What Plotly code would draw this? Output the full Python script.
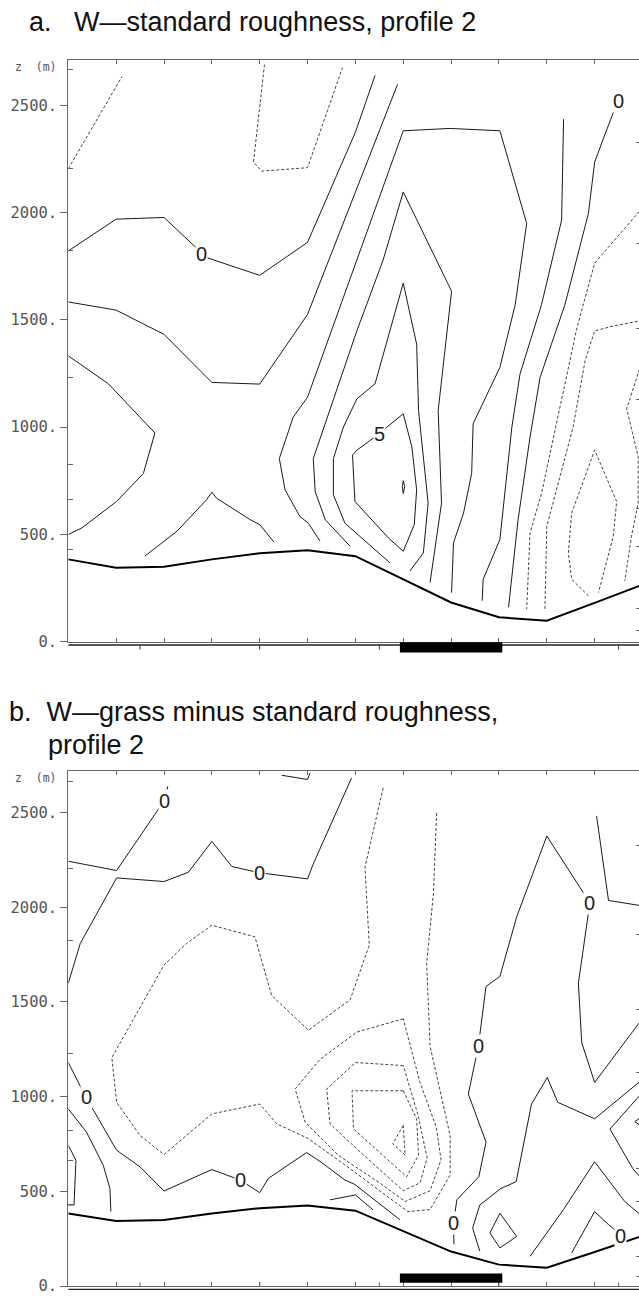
import plotly.graph_objects as go

# ---------------- data (x = model grid column, z = height in m) ----------------
col_x = list(range(13))
terrain_z = [383, 344, 349, 383, 411, 425, 398, 290, 182, 113, 97, 180, 265]

z_ticks = [0, 500, 1000, 1500, 2000, 2500]
z_tick_text = ["0.", "500.", "1000.", "1500.", "2000.", "2500."]
left_levels = [429, 664, 823, 1230, 1822, 2203, 2665]
right_levels = [50, 155, 445, 620, 1130, 1460, 1855, 2325]
scale_ticks = [1.5, 4, 6.5, 9, 11.5]
site_x = [6.93, 9.07]

# ---- panel a: W, standard roughness ----
a_neg1_x = [0.0, 1.12]
a_neg1_z = [2204, 2633]
a_neg2_x = [4.10, 3.87, 4.04, 5.0, 5.73]
a_neg2_z = [2690, 2235, 2193, 2209, 2675]
a_neg3_x = [12.0, 11.0, 10.63, 10.38, 10.14, 9.89, 9.65, 9.58]
a_neg3_z = [2022, 1764, 1463, 1201, 954, 691, 506, 151]
a_neg4_x = [12.0, 11.39, 11.0, 10.80, 10.55, 10.14, 10.0, 9.96]
a_neg4_z = [1497, 1471, 1448, 1309, 1000, 645, 537, 144]
a_neg5_x = [10.87, 10.52, 10.45, 10.52, 11.0, 11.46, 11.39, 11.08]
a_neg5_z = [213, 290, 413, 599, 892, 653, 491, 228]
a_neg6_x = [12.0, 11.67, 11.91, 11.91, 11.77, 11.63]
a_neg6_z = [1315, 1085, 861, 645, 491, 282]

a_zero1_x = [0, 1.0, 2.0, 2.89, 4.0, 5.0, 6.0, 6.41]
a_zero1_z = [1821, 1969, 1977, 1790, 1707, 1861, 2374, 2639]
a_zero2_x = [11.49, 11.40, 11.18, 11.0, 10.87, 10.38, 9.86, 9.65, 9.40, 9.20]
a_zero2_z = [2520, 2472, 2343, 2235, 1996, 1571, 1232, 954, 568, 159]

a_pos1_x = [0, 1.0, 2.0, 3.0, 4.0, 5.0, 6.88]
a_pos1_z = [1583, 1545, 1432, 1208, 1200, 1525, 2597]
a_pos2_x = [0, 0.84, 1.81, 1.57, 1.01, 0.28, 0]
a_pos2_z = [1332, 1201, 972, 784, 653, 529, 499]
a_pos3_x = [1.60, 2.27, 2.89, 3.0, 3.10, 3.80, 4.0, 4.30]
a_pos3_z = [398, 514, 661, 696, 668, 568, 545, 463]
a_pos4_x = [5.26, 5.02, 4.84, 4.53, 4.41, 4.70, 5.0, 6.93, 7.0, 7.98, 9.02, 9.58,
            9.34, 9.02, 8.46, 8.43, 8.26, 8.05, 8.01]
a_pos4_z = [468, 551, 583, 707, 853, 1046, 1139, 2343, 2381, 2392, 2381, 1949,
            1571, 1278, 1015, 784, 599, 460, 228]
a_pos5_x = [5.89, 5.37, 5.16, 5.12, 5.51, 6.03, 6.58, 7.0, 8.01, 7.73, 7.80, 7.56]
a_pos5_z = [444, 568, 699, 853, 1108, 1448, 1779, 2096, 1633, 1077, 645, 275]
a_pos6_x = [6.72, 5.78, 5.54, 5.54, 5.75, 6.03, 6.41, 7.0, 7.28, 7.32, 7.52, 7.42, 7.14]
a_pos6_z = [367, 552, 684, 853, 1000, 1131, 1201, 1671, 1386, 1077, 645, 413, 329]
a_pos7_x = [7.0, 7.18, 7.28, 7.23, 7.0, 6.69, 5.99, 5.94, 6.03, 6.41, 7.0]
a_pos7_z = [1062, 907, 707, 545, 421, 483, 653, 869, 892, 954, 1062]
a_pos8_x = [7.0, 7.03, 7.0, 6.98, 7.0]
a_pos8_z = [750, 722, 690, 722, 750]
a_pos9_x = [10.35, 10.31, 9.89, 9.44, 9.27, 9.02, 8.67, 8.65]
a_pos9_z = [2435, 1965, 1571, 1247, 1000, 476, 290, 190]

a_label_text = ["0", "0", "5"]
a_label_x = [2.79, 11.49, 6.51]
a_label_z = [1806, 2520, 968]

# ---- panel b: W, grass minus standard roughness ----
b_neg1_x = [6.58, 6.20, 6.29, 5.89, 5.02, 4.25, 3.90, 3.0, 2.47, 2.0, 0.91, 1.01, 1.50,
            2.0, 3.0, 4.0, 4.36, 5.02, 5.26, 5.78, 6.62, 7.10, 7.56, 7.98, 7.98, 7.56,
            7.49, 7.63, 7.70]
b_neg1_z = [2631, 2211, 1800, 1512, 1351, 1534, 1844, 1905, 1809, 1695, 1206, 970, 795,
            694, 909, 961, 856, 778, 734, 640, 482, 393, 404, 586, 795, 1267,
            1704, 2071, 2508]
b_neg2_x = [7.0, 6.03, 5.26, 4.74, 4.95, 5.64, 6.52, 7.04, 7.56, 7.79, 7.69, 7.35, 7.0]
b_neg2_z = [1411, 1341, 1197, 1040, 865, 691, 542, 446, 503, 666, 839, 1075, 1411]
b_neg3_x = [7.0, 6.0, 5.40, 5.47, 6.10, 7.0, 7.35, 7.50, 7.31, 7.0]
b_neg3_z = [1164, 1180, 1040, 856, 708, 503, 545, 676, 902, 1164]
b_neg4_x = [7.0, 5.93, 5.96, 7.07, 7.32, 7.28, 7.0]
b_neg4_z = [1031, 1031, 830, 577, 691, 883, 1031]
b_neg5_x = [7.0, 6.78, 7.04, 7.0]
b_neg5_z = [848, 751, 691, 848]

b_zero1_x = [0, 0.25, 1.01, 2.0, 2.51, 3.0, 3.42, 4.0, 5.0, 5.12, 5.92]
b_zero1_z = [1599, 1809, 2155, 2136, 2185, 2348, 2215, 2182, 2150, 2229, 2683]
b_zero2_x = [0, 1.01, 2.0, 2.08]
b_zero2_z = [2243, 2194, 2561, 2639]
b_zero3_x = [0, 0.37, 1.01, 1.50, 2.0, 3.0, 3.59, 4.0, 4.18, 4.98, 5.26, 5.78, 5.99, 6.93]
b_zero3_z = [1180, 996, 717, 629, 502, 615, 560, 493, 568, 705, 658, 560, 536, 350]
b_zero4_x = [8.06, 8.05, 8.12, 8.58, 8.73, 8.36, 8.57, 8.73, 9.02, 9.37, 10.0, 10.90,
             10.66, 10.73, 11.0, 12.0]
b_zero4_z = [220, 332, 455, 577, 760, 1014, 1267, 1582, 1635, 1949, 2376, 2024,
             1599, 1285, 1075, 1413]
b_zero5_x = [10.52, 11.0, 11.29, 11.46, 11.53]
b_zero5_z = [175, 393, 324, 288, 262]

b_pos1_x = [4.46, 5.0, 5.05]
b_pos1_z = [2697, 2675, 2709]
b_pos2_x = [0, 0.38, 0.73, 0.87, 0.89]
b_pos2_z = [935, 813, 638, 515, 393]
b_pos3_x = [0, 0.16, 0.12, 0]
b_pos3_z = [743, 664, 428, 428]
b_pos4_x = [5.47, 6.0, 6.37]
b_pos4_z = [455, 481, 402]
b_pos5_x = [11.04, 11.29, 12.0]
b_pos5_z = [2482, 2036, 2007]
b_pos6_x = [12.0, 11.0, 10.23, 10.01, 9.68, 9.36, 9.04, 8.60, 8.45, 8.60]
b_pos6_z = [1091, 883, 970, 1101, 961, 551, 515, 428, 306, 184]
b_pos7_x = [9.02, 9.37, 9.02, 8.81, 9.02]
b_pos7_z = [384, 262, 201, 280, 384]
b_pos8_x = [9.65, 10.35, 11.0, 11.63, 12.0]
b_pos8_z = [157, 404, 656, 446, 367]
b_pos9_x = [12.0, 11.32, 11.80, 12.0]
b_pos9_z = [1023, 829, 619, 561]
b_pos10_x = [12.0, 11.84, 12.0]
b_pos10_z = [897, 868, 839]

b_label_text = ["0", "0", "0", "0", "0", "0", "0", "0"]
b_label_x = [2.0, 4.0, 0.37, 3.59, 8.05, 8.57, 10.90, 11.53]
b_label_z = [2561, 2182, 996, 560, 332, 1267, 2024, 262]

# ---------------- layout constants (pixels of the 639 x 1299 page) ----------------
W, H = 639, 1299
LEFT = 68.3
COL = 47.85
X_RANGE = [0, (W - LEFT) / COL]
A_TOP, A_BOT = 60.0, 646.0
B_TOP, B_BOT = 776.7, 1295.0
A_ZMAX = (A_BOT - A_TOP) / 0.216
B_ZMAX = (B_BOT - B_TOP) / 0.1907


def py(p):
    return 1 - p / H


AX = "#666666"
SOLID = "#1a1a1a"
DASHC = "#444444"
TICKFONT = dict(family="DejaVu Sans Mono", size=15.5, color="#555555")
LABELFONT = dict(family="Liberation Sans", size=20, color="#222222")

fig = go.Figure()

panels = {
    "a": dict(xa="x", ya="y",
              solid=[(a_zero1_x, a_zero1_z), (a_zero2_x, a_zero2_z), (a_pos1_x, a_pos1_z),
                     (a_pos2_x, a_pos2_z), (a_pos3_x, a_pos3_z), (a_pos4_x, a_pos4_z),
                     (a_pos5_x, a_pos5_z), (a_pos6_x, a_pos6_z), (a_pos7_x, a_pos7_z),
                     (a_pos8_x, a_pos8_z), (a_pos9_x, a_pos9_z)],
              dashed=[(a_neg1_x, a_neg1_z), (a_neg2_x, a_neg2_z), (a_neg3_x, a_neg3_z),
                      (a_neg4_x, a_neg4_z), (a_neg5_x, a_neg5_z), (a_neg6_x, a_neg6_z)],
              labels=(a_label_text, a_label_x, a_label_z)),
    "b": dict(xa="x2", ya="y2",
              solid=[(b_zero1_x, b_zero1_z), (b_zero2_x, b_zero2_z), (b_zero3_x, b_zero3_z),
                     (b_zero4_x, b_zero4_z), (b_zero5_x, b_zero5_z), (b_pos1_x, b_pos1_z),
                     (b_pos2_x, b_pos2_z), (b_pos3_x, b_pos3_z), (b_pos4_x, b_pos4_z),
                     (b_pos5_x, b_pos5_z), (b_pos6_x, b_pos6_z), (b_pos7_x, b_pos7_z),
                     (b_pos8_x, b_pos8_z), (b_pos9_x, b_pos9_z), (b_pos10_x, b_pos10_z)],
              dashed=[(b_neg1_x, b_neg1_z), (b_neg2_x, b_neg2_z), (b_neg3_x, b_neg3_z),
                      (b_neg4_x, b_neg4_z), (b_neg5_x, b_neg5_z)],
              labels=(b_label_text, b_label_x, b_label_z)),
}

annotations = []
for key, p in panels.items():
    for xs, zs in p["dashed"]:
        fig.add_trace(go.Scatter(x=xs, y=zs, mode="lines", xaxis=p["xa"], yaxis=p["ya"],
                                 line=dict(color=DASHC, width=1, dash="3px,2px"),
                                 hoverinfo="skip", showlegend=False))
    for xs, zs in p["solid"]:
        fig.add_trace(go.Scatter(x=xs, y=zs, mode="lines", xaxis=p["xa"], yaxis=p["ya"],
                                 line=dict(color=SOLID, width=1),
                                 hoverinfo="skip", showlegend=False))
    fig.add_trace(go.Scatter(x=col_x, y=terrain_z, mode="lines", xaxis=p["xa"], yaxis=p["ya"],
                             line=dict(color="#000000", width=2),
                             hoverinfo="skip", showlegend=False))
    txt, lx, lz = p["labels"]
    for t, x, z in zip(txt, lx, lz):
        annotations.append(dict(x=x, y=z, xref=p["xa"], yref=p["ya"], text=t, showarrow=False,
                                font=LABELFONT, bgcolor="white", borderpad=0,
                                xanchor="center", yanchor="middle"))

# invisible traces carrying the right-hand (model level) tick axes
fig.add_trace(go.Scatter(x=col_x, y=terrain_z, mode="lines", xaxis="x", yaxis="y3",
                         line=dict(width=0), opacity=0, hoverinfo="skip", showlegend=False))
fig.add_trace(go.Scatter(x=col_x, y=terrain_z, mode="lines", xaxis="x2", yaxis="y4",
                         line=dict(width=0), opacity=0, hoverinfo="skip", showlegend=False))


def xaxis_def(anchor):
    return dict(domain=[LEFT / W, 1.0], range=X_RANGE, anchor=anchor,
                showline=True, linecolor=AX, linewidth=1, mirror="ticks",
                ticks="inside", ticklen=4, tickcolor=AX, tickmode="array",
                tickvals=col_x[1:], showticklabels=False, showgrid=False, zeroline=False)


def yaxis_def(anchor, dom, zmax):
    return dict(domain=dom, range=[0, zmax], anchor=anchor,
                showline=True, linecolor=AX, linewidth=1,
                ticks="outside", ticklen=7, tickcolor=AX, tickmode="array",
                tickvals=z_ticks, ticktext=z_tick_text, tickfont=TICKFONT,
                showgrid=False, zeroline=False,
                minor=dict(tickmode="array", tickvals=left_levels, ticks="inside",
                           ticklen=5, tickcolor=AX))


def raxis_def(anchor, over, dom, zmax):
    return dict(domain=dom, range=[0, zmax], anchor=anchor, overlaying=over, side="right",
                showline=False, ticks="inside", ticklen=3, tickcolor=AX, tickmode="array",
                tickvals=right_levels, showticklabels=False, showgrid=False, zeroline=False)


dom_a = [py(A_BOT), py(A_TOP)]
dom_b = [py(B_BOT), py(B_TOP)]

shapes = []
# panel a: second base line with distance-scale ticks, and the black site bar
shapes.append(dict(type="line", xref="paper", yref="paper", x0=LEFT / W, x1=1.0,
                   y0=py(649.5), y1=py(649.5), line=dict(color="#222222", width=1.3)))
for t in scale_ticks:
    shapes.append(dict(type="line", xref="x", yref="paper", x0=t, x1=t,
                       y0=py(649.5), y1=py(654.0), line=dict(color="#333333", width=1)))
shapes.append(dict(type="rect", xref="x", yref="paper", x0=site_x[0], x1=site_x[1],
                   y0=py(657.0), y1=py(646.8), fillcolor="black", line=dict(width=0)))
# panel b
shapes.append(dict(type="line", xref="paper", yref="paper", x0=LEFT / W, x1=1.0,
                   y0=py(1298.3), y1=py(1298.3), line=dict(color="#222222", width=1.3)))
for t in scale_ticks:
    shapes.append(dict(type="line", xref="x2", yref="paper", x0=t, x1=t,
                       y0=py(1295.0), y1=py(1291.5), line=dict(color=AX, width=1)))
shapes.append(dict(type="rect", xref="x2", yref="paper", x0=site_x[0], x1=site_x[1],
                   y0=py(1291.7), y1=py(1282.3), fillcolor="black", line=dict(width=0)))

TITLE_FONT = dict(family="Liberation Sans", size=27, color="#111111")
annotations += [
    dict(text="a.\u00a0\u00a0\u00a0W\u2014standard roughness, profile 2", xref="paper", yref="paper",
         x=27 / W, y=py(22), xanchor="left", yanchor="middle", showarrow=False, font=TITLE_FONT),
    dict(text="b.\u00a0\u00a0W\u2014grass minus standard roughness,", xref="paper", yref="paper",
         x=7 / W, y=py(717), xanchor="left", yanchor="middle", showarrow=False, font=TITLE_FONT),
    dict(text="profile 2", xref="paper", yref="paper",
         x=46 / W, y=py(750), xanchor="left", yanchor="middle", showarrow=False, font=TITLE_FONT),
    dict(text="z\u00a0\u00a0(m)", xref="paper", yref="paper", x=13 / W, y=py(67),
         xanchor="left", yanchor="middle", showarrow=False,
         font=dict(family="DejaVu Sans Mono", size=11.5, color="#555555")),
    dict(text="z\u00a0\u00a0(m)", xref="paper", yref="paper", x=13 / W, y=py(783),
         xanchor="left", yanchor="middle", showarrow=False,
         font=dict(family="DejaVu Sans Mono", size=11.5, color="#555555")),
]

fig.update_layout(
    width=W, height=H, margin=dict(l=0, r=0, t=0, b=0),
    paper_bgcolor="white", plot_bgcolor="white", showlegend=False,
    xaxis=xaxis_def("y"), yaxis=yaxis_def("x", dom_a, A_ZMAX),
    xaxis2=xaxis_def("y2"), yaxis2=yaxis_def("x2", dom_b, B_ZMAX),
    yaxis3=raxis_def("x", "y", dom_a, A_ZMAX),
    yaxis4=raxis_def("x2", "y2", dom_b, B_ZMAX),
    shapes=shapes, annotations=annotations,
)

fig.write_html("out.html")
